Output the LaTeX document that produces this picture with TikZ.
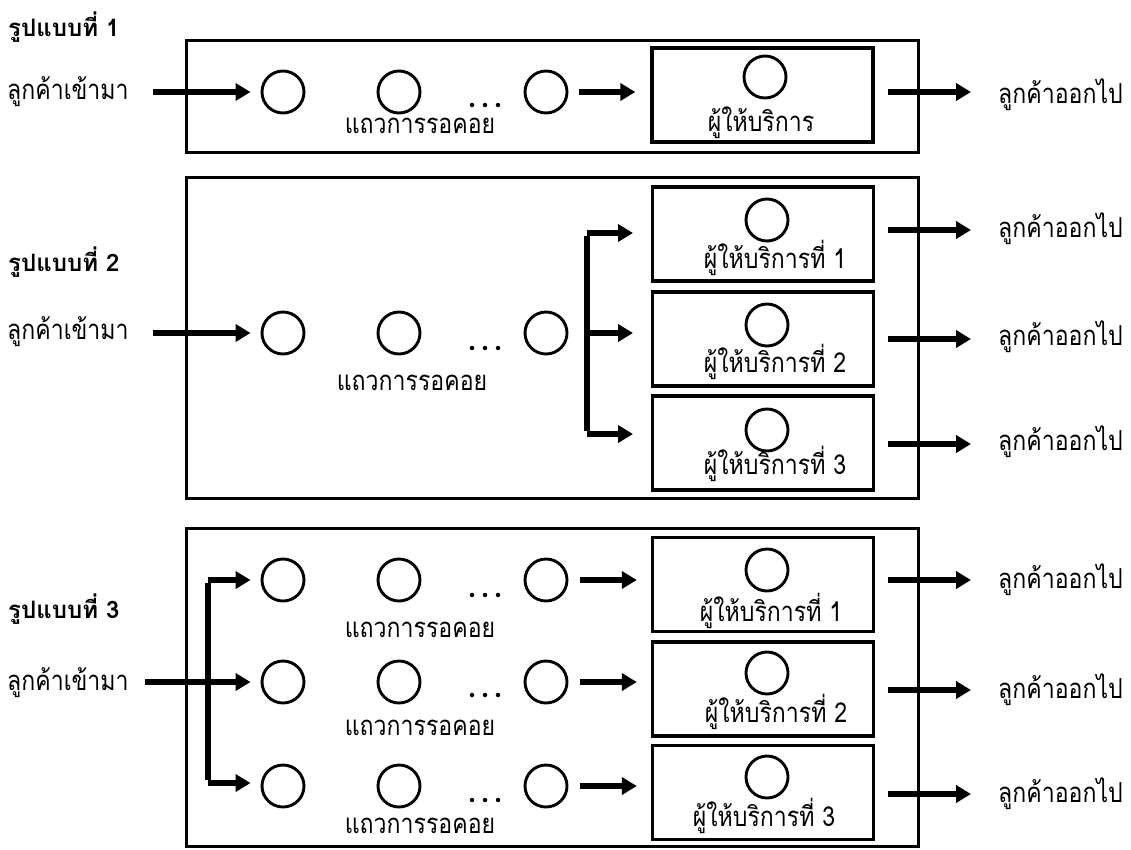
\documentclass[tikz,border=0pt]{standalone}
\usepackage{fontspec}
\newfontfamily\thai[Script=Thai, FakeStretch=0.84]{Loma}
\newfontfamily\thaittl[Script=Thai]{Loma}
\usetikzlibrary{arrows.meta}
\tikzset{
  panel/.style={draw, line width=3pt, rectangle, inner sep=0, minimum width=732pt},
  srvbox/.style={draw, line width=3.4pt, rectangle, inner sep=0, minimum width=221pt, minimum height=94pt},
  cust/.style={circle, draw, line width=2.9pt, minimum size=42pt, inner sep=0},
  flow/.style={line width=5.2pt, -{Triangle[length=15pt,width=17pt]}},
  trunk/.style={line width=5.2pt},
  dot/.style={circle, fill, inner sep=0, minimum size=4.5pt},
  txt/.style={anchor=base west, inner sep=0, font=\thai\fontsize{27.5}{29}\selectfont},
  ctxt/.style={anchor=base, inner sep=0, font=\thai\fontsize{27.5}{29}\selectfont},
  ttl/.style={anchor=base west, inner sep=0, font=\thaittl\bfseries\fontsize{24}{26}\selectfont},
}
\begin{document}
\begin{tikzpicture}[x=1pt,y=-1pt]
\useasboundingbox (0,0) rectangle (1131,849);

% ---------------- Panel 1 ----------------
\node[panel, minimum height=112pt] (P1) at (552,96) {};
\node[ttl] (t1) at (8,36) {รูปแบบที่ 1};
\node[txt] (in1) at (7,99) {ลูกค้าเข้ามา};
\node[cust] (a1) at (283,92) {};
\node[cust] (a2) at (399,92) {};
\node[cust] (a3) at (546,92) {};
\node[dot] (d11) at (472,105) {};
\node[dot] (d12) at (485,105) {};
\node[dot] (d13) at (498,105) {};
\node[ctxt] (qa) at (420,133) {แถวการรอคอย};
\node[srvbox] (S1) at (762.5,95) {};
\node[cust] (sc1) at (765,77) {};
\node[ctxt] (st1) at (761,131) {ผู้ให้บริการ};
\node[txt] (out1) at (998,103) {ลูกค้าออกไป};
\coordinate (i1) at (153,92);
\coordinate (e1) at (971,92);
\draw[flow, shorten >=10pt] (i1) -- (a1.west);
\draw[flow, shorten <=11pt, shorten >=15pt] (a3.east) -- (S1.west |- a3.east);
\draw[flow, shorten <=13pt] (S1.east |- e1) -- (e1);

% ---------------- Panel 2 ----------------
\node[panel, minimum height=321pt] (P2) at (552,337.5) {};
\node[ttl] (t2) at (8,271) {รูปแบบที่ 2};
\node[txt] (in2) at (7,339) {ลูกค้าเข้ามา};
\node[cust] (b1) at (283,333) {};
\node[cust] (b2) at (399,333) {};
\node[cust] (b3) at (546,333) {};
\node[dot] (d21) at (472,348) {};
\node[dot] (d22) at (485,348) {};
\node[dot] (d23) at (498,348) {};
\node[ctxt] (qb) at (412,390) {แถวการรอคอย};
\coordinate (i2) at (153,333);
\draw[flow, shorten >=10pt] (i2) -- (b1.west);
\coordinate (br2t) at (587,233);
\coordinate (br2b) at (587,434);
\draw[trunk] ([yshift=-2.6pt]br2t) -- ([yshift=2.6pt]br2b);
\foreach \n/\sy/\cy/\ty/\ay/\oy/\by in {1/234/220/268/233/230/237, 2/339/325/372/333/339/345, 3/443/430/474/434/444/450}{
  \node[srvbox] (S2\n) at (763,\sy) {};
  \node[cust] (sc2\n) at (767,\cy) {};
  \node[ctxt] (st2\n) at (775,\ty) {ผู้ให้บริการที่ \n};
  \coordinate (f2\n) at (587,\ay);
  \coordinate (g2\n) at (633,\ay);
  \coordinate (e2\n) at (971,\oy);
  \node[txt] (out2\n) at (998,\by) {ลูกค้าออกไป};
  \draw[flow] (f2\n) -- (g2\n);
  \draw[flow, shorten <=13pt] (S2\n.east |- e2\n) -- (e2\n);
}

% ---------------- Panel 3 ----------------
\node[panel, minimum height=318pt] (P3) at (552,687) {};
\node[ttl] (t3) at (8,618) {รูปแบบที่ 3};
\node[txt] (in3) at (7,690) {ลูกค้าเข้ามา};
\coordinate (i3) at (145,682);
\coordinate (br3t) at (208,580);
\coordinate (br3b) at (208,783);
\draw[trunk] ([yshift=-2.6pt]br3t) -- ([yshift=2.6pt]br3b);
\foreach \n/\ry/\dy/\qy/\sy/\cy/\ty/\tx/\oy/\by in {1/580/595/637/584.5/570/621/771/580/588, 2/682/695/735/689/673/722/776/690/698, 3/786/800/833/792.5/777/826/764/794/802}{
  \node[cust] (c\n1) at (283,\ry) {};
  \node[cust] (c\n2) at (399,\ry) {};
  \node[cust] (c\n3) at (546,\ry) {};
  \node[dot] (d3\n1) at (472,\dy) {};
  \node[dot] (d3\n2) at (485,\dy) {};
  \node[dot] (d3\n3) at (498,\dy) {};
  \node[ctxt] (qc\n) at (420,\qy) {แถวการรอคอย};
  \node[srvbox] (S3\n) at (763,\sy) {};
  \node[cust] (sc3\n) at (767,\cy) {};
  \node[ctxt] (st3\n) at (\tx,\ty) {ผู้ให้บริการที่ \n};
  \coordinate (e3\n) at (971,\oy);
  \node[txt] (out3\n) at (998,\by) {ลูกค้าออกไป};
  \draw[flow, shorten <=12pt, shorten >=14pt] (c\n3.east) -- (S3\n.west |- c\n3.east);
  \draw[flow, shorten <=13pt] (S3\n.east |- e3\n) -- (e3\n);
}
\draw[flow, shorten >=10pt] (br3t) -- (br3t -| c11.west);
\draw[flow, shorten >=10pt] (i3) -- (c21.west);
\draw[flow, shorten >=10pt] (br3b) -- (br3b -| c31.west);
\end{tikzpicture}
\end{document}
